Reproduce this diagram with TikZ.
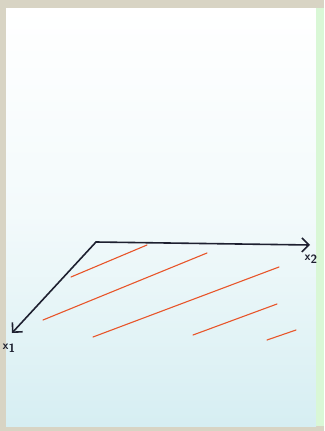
\documentclass[tikz,border=0pt]{standalone}
\usetikzlibrary{arrows.meta}
\definecolor{frame}{HTML}{D8D4C4}
\definecolor{papertop}{HTML}{FFFFFF}
\definecolor{paperbot}{HTML}{D6EEF2}
\definecolor{ink}{HTML}{1E2030}
\definecolor{redink}{HTML}{E8552A}
\tikzset{
  axis/.style={draw=ink, line width=1.6pt, line cap=round, line join=round, -{Straight Barb[length=7pt,width=14pt,line width=1.6pt]}},
  hatch/.style={draw=redink, line width=1.1pt, line cap=round},
  lbl/.style={text=ink, font=\sffamily\bfseries\fontsize{12}{13}\selectfont, inner sep=0pt}
}
\begin{document}
\begin{tikzpicture}[x=1pt,y=-1pt]
\useasboundingbox (0,0) rectangle (324,431);
\fill[frame] (0,0) rectangle (324,431);
\shade[top color=papertop, bottom color=paperbot, middle color=papertop!70!paperbot] (6,8) rectangle (316,426);
\fill[frame!60!green!30] (316,8) rectangle (324,426);
% axes
\coordinate (O) at (96,242);
\coordinate (X2) at (310,245);
\coordinate (X1) at (12,333);
\draw[axis] (O) -- (X2);
\draw[axis] (O) -- (X1);
\node[lbl] (lx2) at (311,259) {x\raisebox{-3pt}{2}};
\node[lbl] (lx1) at (9,348) {x\raisebox{-3pt}{1}};
% hatch lines
\coordinate (a1) at (71,277); \coordinate (b1) at (147,245);
\coordinate (a2) at (43,320); \coordinate (b2) at (207,253);
\coordinate (a3) at (93,337); \coordinate (b3) at (279,267);
\coordinate (a4) at (193,335); \coordinate (b4) at (277,304);
\coordinate (a5) at (267,340); \coordinate (b5) at (296,330);
\foreach \i in {1,...,5} {\draw[hatch] (a\i) -- (b\i);}
\end{tikzpicture}
\end{document}
